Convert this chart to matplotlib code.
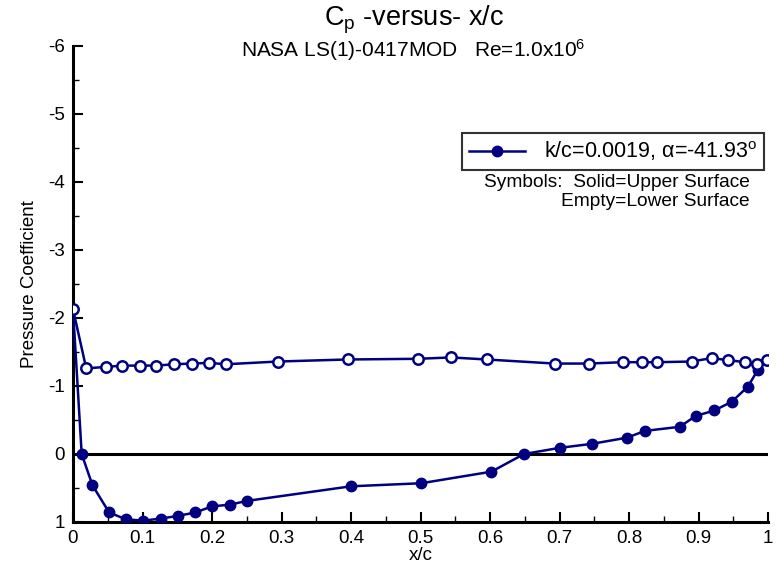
import matplotlib
matplotlib.use("Agg")
import matplotlib.pyplot as plt
from matplotlib.ticker import MultipleLocator
from matplotlib.lines import Line2D

plt.rcParams['font.family'] = ['Liberation Sans', 'DejaVu Sans']
plt.rcParams['mathtext.fontset'] = 'custom'
plt.rcParams['mathtext.rm'] = 'Liberation Sans'
plt.rcParams['mathtext.it'] = 'Liberation Sans'
plt.rcParams['mathtext.bf'] = 'Liberation Sans:bold'

# Upper surface (solid symbols)
upper_x = [0.0125, 0.028, 0.052, 0.076, 0.101, 0.126, 0.151, 0.176, 0.200, 0.226, 0.250,
           0.400, 0.501, 0.602, 0.649, 0.700, 0.747, 0.797, 0.823, 0.873, 0.896, 0.923,
           0.948, 0.971, 0.985]
upper_cp = [0.00, 0.46, 0.86, 0.96, 0.98, 0.95, 0.91, 0.86, 0.77, 0.745, 0.69,
            0.475, 0.43, 0.26, 0.00, -0.09, -0.15, -0.24, -0.34, -0.40, -0.56, -0.64,
            -0.77, -0.99, -1.23]

# Lower surface (empty symbols), includes leading and trailing edge
lower_x = [0.0, 0.019, 0.047, 0.071, 0.096, 0.120, 0.145, 0.171, 0.196, 0.220, 0.295,
           0.395, 0.496, 0.544, 0.595, 0.693, 0.742, 0.791, 0.818, 0.841, 0.890, 0.919,
           0.943, 0.967, 0.984, 0.998]
lower_cp = [-2.13, -1.26, -1.28, -1.30, -1.30, -1.30, -1.32, -1.33, -1.34, -1.32, -1.36,
            -1.39, -1.40, -1.42, -1.39, -1.33, -1.33, -1.35, -1.35, -1.35, -1.36, -1.41,
            -1.38, -1.35, -1.32, -1.38]

xtick_vals = [0, 0.1, 0.2, 0.3, 0.4, 0.5, 0.6, 0.7, 0.8, 0.9, 1.0]
xtick_labels = ['0', '0.1', '0.2', '0.3', '0.4', '0.5', '0.6', '0.7', '0.8', '0.9', '1']
ytick_vals = [-6, -5, -4, -3, -2, -1, 0, 1]
ytick_labels = ['-6', '-5', '-4', '-3', '-2', '-1', '0', '1']

legend_label = 'k/c=0.0019, α=-41.93$^\\mathrm{o}$'
navy = '#000080'

fig = plt.figure(figsize=(7.82, 5.76), dpi=100)
ax = fig.add_axes([73/782, 1-522/576, (768-73)/782, (522-46)/576])

loop_x = [lower_x[0]] + upper_x + [lower_x[-1]]
loop_y = [lower_cp[0]] + upper_cp + [lower_cp[-1]]
ax.plot(loop_x, loop_y, color=navy, lw=1.8, zorder=3)
ax.plot(lower_x, lower_cp, color=navy, lw=1.8, zorder=3)
ax.plot(upper_x, upper_cp, linestyle='none', marker='o', ms=7.5, mfc=navy, mec=navy, zorder=4)
ax.plot(lower_x, lower_cp, linestyle='none', marker='o', ms=7.5, mfc='white', mec=navy, mew=1.8, zorder=4)

ax.axhline(0, color='black', lw=2.2, zorder=2)

ax.set_xlim(0, 1)
ax.set_ylim(1, -6)
for s in ['top', 'right']:
    ax.spines[s].set_visible(False)
for s in ['left', 'bottom']:
    ax.spines[s].set_linewidth(2.2)
    ax.spines[s].set_color('black')

ax.xaxis.set_minor_locator(MultipleLocator(0.05))
ax.yaxis.set_minor_locator(MultipleLocator(0.5))
ax.set_xticks(xtick_vals)
ax.set_xticklabels(xtick_labels)
ax.set_yticks(ytick_vals)
ax.set_yticklabels(ytick_labels)
ax.tick_params(which='both', direction='in', color='black')
ax.tick_params(which='major', length=7, width=1.5, labelsize=13.5)
ax.tick_params(which='minor', length=4, width=1)
ax.tick_params(axis='x', pad=6)
ax.tick_params(axis='y', pad=6)

ax.set_xlabel('x/c', fontsize=13.5, labelpad=0)
ax.set_ylabel('Pressure Coefficient', fontsize=13.5, labelpad=7)

fig.text(0.530, 1-26/576, 'C$_\\mathrm{p}$ -versus- x/c', ha='center', va='baseline', fontsize=19.5)
fig.text(0.528, 1-57/576, 'NASA LS(1)-0417MOD   Re=1.0x10$^\\mathrm{6}$', ha='center', va='baseline', fontsize=15)

handle = Line2D([], [], color=navy, lw=1.8, marker='o', ms=7.5, mfc=navy, mec=navy)
leg = ax.legend([handle], [legend_label], loc='upper right', bbox_to_anchor=(764/782, 1-133/576),
                bbox_transform=fig.transFigure, fontsize=15.5, frameon=True, fancybox=False,
                edgecolor='black', handlelength=2.6, borderpad=0.3, handletextpad=0.9,
                borderaxespad=0)
leg.get_frame().set_linewidth(1.5)

fig.text(750/782, 1-187/576, 'Symbols:  Solid=Upper Surface', ha='right', va='baseline', fontsize=13.8)
fig.text(750/782, 1-206/576, 'Empty=Lower Surface', ha='right', va='baseline', fontsize=13.8)

fig.savefig('out.png', dpi=100)
